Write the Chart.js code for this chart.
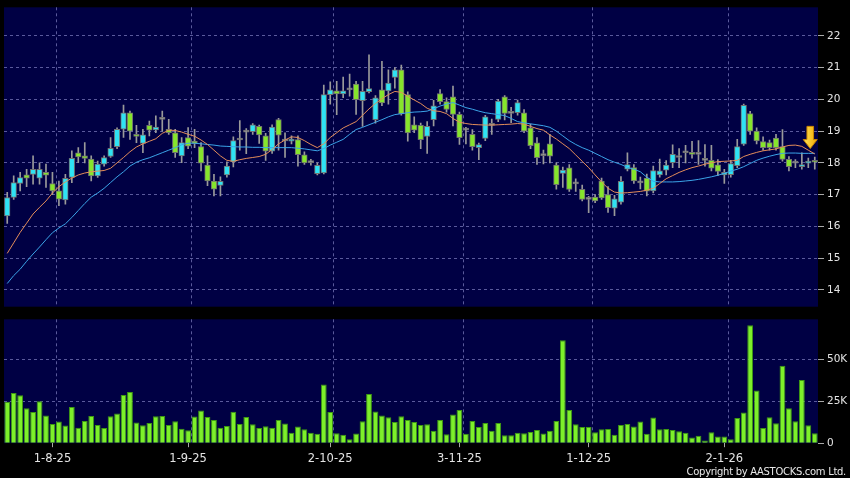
<!DOCTYPE html>
<html>
<head>
<meta charset="utf-8">
<script src="https://cdn.jsdelivr.net/npm/chart.js@4.4.1/dist/chart.umd.min.js"></script>
<style>
  html, body { margin: 0; padding: 0; background: #000; }
  body { width: 850px; height: 478px; position: relative; overflow: hidden; }
  #pricebox { position: absolute; left: 0; top: -2px; width: 850px; height: 318px; }
  #volbox { position: absolute; left: 0; top: 310px; width: 850px; height: 168px; }
  #copy { position: absolute; right: 4px; bottom: 1px; color: #e8e8e8;
          font: 10px "DejaVu Sans", sans-serif; letter-spacing: -0.3px; }
</style>
</head>
<body>
<div id="pricebox"><canvas id="priceChart"></canvas></div>
<div id="volbox"><canvas id="volChart"></canvas></div>
<div id="copy">Copyright by AASTOCKS.com Ltd.</div>
<script>
// trading days shown, per month (D-M-YY labels)
const tradingDays = [
    ['7-25', [23, 24, 25, 28, 29, 30, 31]],
    ['8-25', [1, 4, 5, 6, 7, 8, 11, 12, 13, 14, 15, 18, 19, 20, 21, 22, 25, 26, 27, 28, 29]],
    ['9-25', [1, 2, 3, 4, 5, 8, 9, 10, 11, 12, 15, 16, 17, 18, 19, 22, 23, 24, 25, 26, 29, 30]],
    ['10-25', [2, 3, 6, 8, 9, 10, 13, 14, 15, 16, 17, 20, 21, 22, 23, 24, 27, 28, 30, 31]],
    ['11-25', [3, 4, 5, 6, 7, 10, 11, 12, 13, 14, 17, 18, 19, 20, 21, 24, 25, 26, 27, 28]],
    ['12-25', [1, 2, 3, 4, 5, 8, 9, 10, 11, 12, 15, 16, 17, 18, 19, 22, 23, 24, 29, 30, 31]],
    ['1-26', [2, 5, 6, 7, 8, 9, 12, 13, 14, 15, 16, 19, 20, 21, 22]]
];
const dates = tradingDays.flatMap(([m, days]) => days.map(d => d + '-' + m));

const tickDates = ['1-8-25', '1-9-25', '2-10-25', '3-11-25', '1-12-25', '2-1-26'];
const priceTicks = [14, 15, 16, 17, 18, 19, 20, 21, 22];
const volTicks = [0, 25, 50]; // thousands

const open = [16.33,16.91,17.35,17.62,17.64,17.52,17.70,17.35,17.12,16.83,
    17.54,18.32,18.22,18.12,17.59,17.96,18.20,18.51,19.06,19.58,
    18.90,18.61,19.18,19.04,19.37,19.06,18.95,18.22,18.80,18.69,
    18.51,17.93,17.43,17.29,17.62,18.03,18.72,18.97,18.98,19.15,
    18.85,18.37,19.36,18.69,18.68,18.73,18.25,18.01,17.66,17.68,
    20.15,20.27,20.17,20.30,20.48,19.96,20.24,19.36,20.30,20.27,
    20.69,20.93,20.15,19.20,19.18,18.83,19.36,20.18,19.93,20.08,
    19.53,19.03,18.90,18.48,18.77,19.18,19.37,20.08,19.56,19.58,
    19.58,19.10,18.63,18.23,18.60,17.93,17.67,17.84,17.34,17.17,
    16.85,16.92,17.43,17.00,16.57,16.76,17.80,17.85,17.37,17.52,
    17.12,17.62,17.77,18.01,18.17,18.32,18.33,18.27,18.08,18.08,
    17.94,17.62,17.63,17.91,18.59,19.55,19.00,18.67,18.64,18.78,
    18.51,18.11,17.99,17.88,17.99,18.08];
const high = [17.07,17.59,17.70,17.80,18.22,18.00,17.96,17.70,17.43,17.64,
    18.38,18.48,18.64,18.22,18.06,18.22,18.80,19.10,19.82,19.63,
    19.18,19.06,19.32,19.48,19.63,19.37,19.06,18.80,19.11,19.06,
    18.64,18.22,17.64,17.56,18.03,18.82,19.33,19.08,19.24,19.19,
    18.93,19.20,19.40,18.95,18.85,18.85,18.35,18.11,18.00,20.45,
    20.55,20.57,20.70,20.80,20.57,20.57,21.40,20.12,21.20,20.93,
    21.00,21.08,20.24,19.45,19.25,19.30,19.97,20.31,20.05,20.42,
    19.60,19.12,19.05,18.62,19.50,19.38,20.00,20.12,19.75,19.98,
    19.68,19.22,18.80,18.40,18.90,18.00,17.87,17.95,17.50,17.30,
    16.95,17.00,17.52,17.25,16.98,17.57,18.32,17.95,17.55,17.65,
    17.90,18.12,18.07,18.57,18.45,18.55,18.68,18.70,18.58,18.55,
    18.10,17.80,18.08,18.74,19.85,19.62,19.10,18.82,18.72,18.90,
    19.05,18.20,18.10,18.32,18.15,18.18];
const low = [16.09,16.85,17.12,17.25,17.33,17.33,17.23,17.00,16.65,16.70,
    17.38,18.01,18.00,17.43,17.54,17.90,18.17,18.45,18.80,18.74,
    18.64,18.32,18.85,18.95,19.00,18.90,18.17,18.01,18.45,18.48,
    17.75,17.28,16.96,16.96,17.55,17.87,18.40,18.29,18.90,18.61,
    18.08,18.30,18.40,18.17,18.60,17.90,17.95,17.93,17.62,17.65,
    19.85,19.52,20.05,20.10,19.53,19.15,20.20,19.25,19.80,19.85,
    20.35,19.50,18.68,18.95,18.45,18.30,19.16,19.85,19.60,19.16,
    18.58,18.60,18.40,18.10,18.70,18.90,19.30,19.35,19.27,19.50,
    18.95,18.45,17.95,17.97,18.00,17.17,17.23,17.10,17.10,16.80,
    16.43,16.75,16.85,16.44,16.34,16.70,17.75,17.35,17.18,16.96,
    17.05,17.55,17.62,17.85,17.85,18.00,18.15,17.95,17.90,17.75,
    17.60,17.35,17.55,17.85,18.55,18.90,18.60,18.40,18.40,18.40,
    18.05,17.75,17.85,17.80,17.85,17.80];
const close = [16.91,17.38,17.54,17.52,17.80,17.80,17.61,17.12,16.86,17.51,
    18.14,18.19,18.14,17.59,17.96,18.17,18.46,19.06,19.58,19.00,
    18.83,18.88,19.03,19.13,19.37,18.95,18.32,18.64,18.53,18.61,
    17.99,17.43,17.17,17.42,17.90,18.70,18.72,18.97,19.20,18.88,
    18.37,19.13,18.87,18.69,18.75,18.26,18.00,18.01,17.92,20.15,
    20.30,20.17,20.27,20.30,19.99,20.25,20.34,20.05,19.89,20.51,
    20.93,19.54,18.94,19.03,18.73,19.15,19.80,19.93,19.68,19.53,
    18.79,19.03,18.51,18.58,19.45,19.18,19.95,19.56,19.56,19.90,
    19.00,18.54,18.16,18.23,18.21,17.31,17.77,17.16,17.34,16.85,
    16.85,16.80,16.90,16.59,16.87,17.42,17.95,17.43,17.37,17.11,
    17.76,17.75,17.93,18.27,18.17,18.32,18.27,18.27,18.08,17.83,
    17.73,17.70,17.98,18.51,19.81,19.00,18.69,18.48,18.48,18.48,
    18.11,17.88,17.99,17.95,18.04,18.02];

// moving averages
const maShort = [15.15,15.48,15.81,16.10,16.39,16.60,16.80,17.05,17.25,17.40,
    17.52,17.62,17.68,17.72,17.74,17.76,17.83,18.00,18.17,18.35,
    18.50,18.60,18.68,18.76,18.93,19.03,19.02,18.97,18.90,18.84,
    18.72,18.58,18.40,18.22,18.08,18.05,18.10,18.14,18.17,18.20,
    18.27,18.42,18.60,18.72,18.82,18.80,18.70,18.58,18.48,18.60,
    18.80,18.95,19.10,19.20,19.30,19.50,19.70,19.87,20.02,20.15,
    20.25,20.22,20.10,19.98,19.87,19.72,19.64,19.62,19.55,19.40,
    19.28,19.24,19.21,19.20,19.19,19.19,19.20,19.21,19.22,19.24,
    19.22,19.15,19.08,19.03,18.88,18.75,18.60,18.45,18.25,18.05,
    17.85,17.62,17.40,17.20,17.08,17.05,17.06,17.08,17.10,17.14,
    17.20,17.35,17.50,17.60,17.70,17.78,17.85,17.90,17.96,18.00,
    18.04,18.05,18.06,18.08,18.20,18.27,18.33,18.38,18.41,18.44,
    18.50,18.55,18.56,18.52,18.40,18.28];
const maLong = [14.20,14.45,14.65,14.90,15.13,15.35,15.58,15.80,15.95,16.08,
    16.28,16.50,16.72,16.92,17.05,17.20,17.38,17.56,17.72,17.90,
    18.02,18.10,18.16,18.24,18.32,18.40,18.48,18.57,18.62,18.62,
    18.60,18.58,18.56,18.53,18.52,18.51,18.50,18.50,18.49,18.49,
    18.48,18.48,18.48,18.48,18.48,18.46,18.44,18.41,18.38,18.45,
    18.56,18.65,18.74,18.90,19.05,19.12,19.20,19.28,19.36,19.45,
    19.52,19.55,19.58,19.60,19.61,19.63,19.70,19.79,19.85,19.90,
    19.82,19.74,19.69,19.63,19.58,19.55,19.52,19.49,19.40,19.30,
    19.26,19.23,19.20,19.17,19.12,19.00,18.85,18.70,18.58,18.48,
    18.40,18.30,18.20,18.10,18.02,17.95,17.86,17.80,17.72,17.55,
    17.42,17.40,17.40,17.40,17.41,17.43,17.45,17.48,17.52,17.56,
    17.61,17.67,17.74,17.80,17.88,17.98,18.08,18.15,18.21,18.26,
    18.30,18.31,18.31,18.30,18.30,18.30];

// volume in thousands of shares
const volume = [24.8,30.0,28.6,20.8,18.7,25.0,16.5,11.5,12.9,10.5,
    21.6,9.3,13.3,16.3,10.9,9.1,16.1,17.7,28.8,30.6,
    12.3,10.7,12.1,16.1,16.3,10.9,13.1,8.7,7.7,15.9,
    19.6,15.7,13.9,9.3,10.3,18.8,11.5,15.7,11.3,9.1,
    10.1,9.3,13.9,11.7,6.2,9.9,8.3,6.2,5.6,35.1,
    18.7,6.0,5.0,2.4,5.8,13.1,29.4,19.0,16.5,15.5,
    12.7,16.1,13.9,12.7,10.9,11.3,7.5,13.9,5.4,17.1,
    19.8,5.6,13.3,9.7,12.1,7.5,12.1,4.8,4.8,6.2,
    6.0,6.7,7.9,5.8,7.5,13.3,61.5,19.8,11.3,9.7,
    9.7,6.5,8.3,8.5,5.0,10.9,11.5,9.9,12.9,5.6,
    15.3,8.3,8.5,7.9,7.1,6.2,3.4,4.4,1.6,6.5,
    4.0,4.0,2.4,15.1,18.3,70.4,31.5,9.1,15.5,11.9,
    46.2,20.8,13.1,37.7,10.7,6.0];

// yellow signal arrow over the last bars
const arrowAt = { index: 124.3, from: 19.15, to: 18.45 };

const FONT = "'DejaVu Sans', sans-serif";
const gridColor = 'rgba(120, 120, 185, 0.75)';
const textColor = '#e4e4e4';
const UP = '#2fe3f4', DOWN = '#86e52c', FLAT = '#9a9a9a';

const bodies = open.map((o, i) => [o, close[i]]);
const wicks = low.map((l, i) => [l, high[i]]);
const bodyColors = open.map((o, i) => close[i] > o ? UP : (close[i] < o ? DOWN : FLAT));

// navy plot area + dashed date lines on the right edge of each dated bar
const plotBg = {
    id: 'plotBg',
    beforeDraw(chart) {
        const { ctx, chartArea: a } = chart;
        const x = chart.scales.x;
        const half = (x.getPixelForValue(1) - x.getPixelForValue(0)) / 2;
        ctx.save();
        ctx.fillStyle = '#000044';
        ctx.fillRect(a.left, a.top, a.right - a.left, a.bottom - a.top);
        ctx.strokeStyle = gridColor;
        ctx.lineWidth = 1;
        ctx.setLineDash([3, 3]);
        tickDates.forEach(d => {
            const px = Math.round(x.getPixelForValue(dates.indexOf(d)) + half) + 0.5;
            ctx.beginPath();
            ctx.moveTo(px, a.top);
            ctx.lineTo(px, a.bottom);
            ctx.stroke();
        });
        ctx.restore();
    }
};

const arrowMark = {
    id: 'arrowMark',
    afterDatasetsDraw(chart) {
        const { ctx } = chart;
        const cx = chart.scales.x.getPixelForValue(arrowAt.index);
        const top = chart.scales.y.getPixelForValue(arrowAt.from);
        const tip = chart.scales.y.getPixelForValue(arrowAt.to);
        const neck = tip - 9;
        ctx.save();
        const g = ctx.createLinearGradient(cx - 7, 0, cx + 7, 0);
        g.addColorStop(0, '#ffe45a');
        g.addColorStop(1, '#f0a800');
        ctx.fillStyle = g;
        ctx.strokeStyle = '#c98400';
        ctx.lineWidth = 1;
        ctx.beginPath();
        ctx.moveTo(cx - 3.3, top);
        ctx.lineTo(cx + 3.3, top);
        ctx.lineTo(cx + 3.3, neck);
        ctx.lineTo(cx + 7, neck);
        ctx.lineTo(cx, tip);
        ctx.lineTo(cx - 7, neck);
        ctx.lineTo(cx - 3.3, neck);
        ctx.closePath();
        ctx.fill();
        ctx.stroke();
        ctx.restore();
    }
};

const rightAxis = (extra) => Object.assign({
    position: 'right',
    afterFit: s => { s.width = 32; },
    grid: { color: gridColor, tickColor: '#a8a8a8', tickLength: 6, tickBorderDash: [] },
    border: { display: false, dash: [3, 3] },
    ticks: { color: textColor, padding: 3, font: { family: FONT, size: 10.5 } }
}, extra);

Chart.defaults.animation = false;

new Chart(document.getElementById('priceChart'), {
    data: {
        labels: dates,
        datasets: [
            { type: 'line', data: maShort, borderColor: '#e48d5a', borderWidth: 1,
              pointRadius: 0, tension: 0, order: 0 },
            { type: 'line', data: maLong, borderColor: '#3ba4e8', borderWidth: 1,
              pointRadius: 0, tension: 0, order: 0 },
            { type: 'bar', data: bodies, backgroundColor: bodyColors, borderColor: '#707070',
              borderWidth: 1, borderSkipped: false, barThickness: 5.6, minBarLength: 2,
              grouped: false, order: 1 },
            { type: 'bar', data: wicks, backgroundColor: '#9a9a9a', barThickness: 1,
              grouped: false, order: 2 }
        ]
    },
    options: {
        responsive: true,
        maintainAspectRatio: false,
        events: [],
        layout: { padding: { left: 4 } },
        plugins: { legend: { display: false }, tooltip: { enabled: false } },
        scales: {
            x: { display: false, offset: true },
            y: rightAxis({
                min: 13.47, max: 22.9,
                afterBuildTicks: s => { s.ticks = priceTicks.map(v => ({ value: v })); }
            })
        }
    },
    plugins: [plotBg, arrowMark]
});

new Chart(document.getElementById('volChart'), {
    type: 'bar',
    data: {
        labels: dates,
        datasets: [{
            data: volume,
            backgroundColor: '#7df02a',
            borderColor: '#3e9a12',
            borderWidth: 1,
            borderSkipped: 'start',
            barPercentage: 0.9,
            categoryPercentage: 1
        }]
    },
    options: {
        responsive: true,
        maintainAspectRatio: false,
        events: [],
        layout: { padding: { left: 4, bottom: 7 } },
        plugins: { legend: { display: false }, tooltip: { enabled: false } },
        scales: {
            x: {
                offset: true,
                grid: { drawOnChartArea: false, offset: false, tickLength: 4, tickColor: '#a8a8a8' },
                border: { display: false },
                ticks: {
                    autoSkip: false, maxRotation: 0, padding: 5, color: textColor,
                    font: { family: FONT, size: 11.5 },
                    callback: v => tickDates.includes(dates[v]) ? dates[v] : null
                }
            },
            y: rightAxis({
                min: 0, max: 74,
                afterBuildTicks: s => { s.ticks = volTicks.map(v => ({ value: v })); },
                grid: { color: c => c.tick && c.tick.value === 0 ? 'rgba(0,0,0,0)' : gridColor,
                        tickColor: '#a8a8a8', tickLength: 6, tickBorderDash: [] },
                ticks: { color: textColor, padding: 3, font: { family: FONT, size: 10.5 },
                         callback: v => v === 0 ? '0' : v + 'K' }
            })
        }
    },
    plugins: [plotBg]
});
</script>
</body>
</html>
